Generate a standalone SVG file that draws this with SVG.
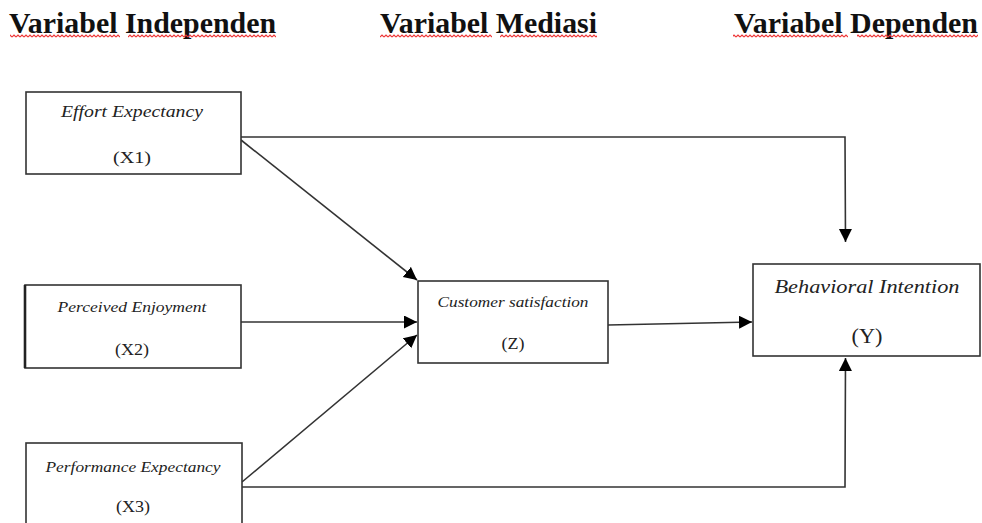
<svg xmlns="http://www.w3.org/2000/svg" width="982" height="523" viewBox="0 0 982 523">
<style>
.hd{font-family:"Liberation Serif","Times New Roman",serif;font-weight:bold;font-size:30px;fill:#111}
.lb{font-family:"Liberation Serif","Times New Roman",serif;font-style:italic;fill:#222}
.id{font-family:"Liberation Serif","Times New Roman",serif;fill:#222}
.box{fill:#fff;stroke:#333;stroke-width:1.6}
.ln{fill:none;stroke:#333;stroke-width:1.6}
</style>
<defs>
<marker id="ah" markerUnits="userSpaceOnUse" markerWidth="14" markerHeight="14" refX="13" refY="6.5" orient="auto">
<path d="M0,0 L13,6.5 L0,13 Z" fill="#000"/>
</marker>
<pattern id="wave" patternUnits="userSpaceOnUse" width="4" height="4" x="0" y="34">
<path d="M0,3 L2,1 L4,3" fill="none" stroke="#e33" stroke-width="1.1"/>
</pattern>
</defs>
<rect width="982" height="523" fill="#fff"/>
<g id="headers">
<text class="hd" x="9" y="33" textLength="267" lengthAdjust="spacingAndGlyphs">Variabel Independen</text>
<text class="hd" x="380" y="33" textLength="217" lengthAdjust="spacingAndGlyphs">Variabel Mediasi</text>
<text class="hd" x="734" y="33" textLength="244" lengthAdjust="spacingAndGlyphs">Variabel Dependen</text>
<rect x="10" y="34" width="110" height="4" fill="url(#wave)"/>
<rect x="128" y="34" width="148" height="4" fill="url(#wave)"/>
<rect x="380" y="34" width="112" height="4" fill="url(#wave)"/>
<rect x="500" y="34" width="97" height="4" fill="url(#wave)"/>
<rect x="733" y="34" width="115" height="4" fill="url(#wave)"/>
<rect x="857" y="34" width="121" height="4" fill="url(#wave)"/>
</g>
<g id="connectors">
<path class="ln" d="M241,137 L845,137 L845.5,242" marker-end="url(#ah)"/>
<path class="ln" d="M241,140 L417,280" marker-end="url(#ah)"/>
<path class="ln" d="M241,322 L417,322" marker-end="url(#ah)"/>
<path class="ln" d="M242,482 L417,335" marker-end="url(#ah)"/>
<path class="ln" d="M242,487 L845,487 L845.5,358" marker-end="url(#ah)"/>
<path class="ln" d="M608,325 L752,322" marker-end="url(#ah)"/>
</g>
<g id="x1">
<rect class="box" x="26" y="92" width="215" height="82"/>
<text class="lb" x="132" y="117" font-size="16" text-anchor="middle" textLength="142" lengthAdjust="spacingAndGlyphs">Effort Expectancy</text>
<text class="id" x="132" y="163" font-size="17" text-anchor="middle" textLength="38" lengthAdjust="spacingAndGlyphs">(X1)</text>
</g>
<g id="x2">
<rect class="box" x="25" y="285" width="216" height="83"/>
<line x1="25" y1="285" x2="25" y2="368" stroke="#222" stroke-width="2.6"/>
<text class="lb" x="132" y="312" font-size="15" text-anchor="middle" textLength="149" lengthAdjust="spacingAndGlyphs">Perceived Enjoyment</text>
<text class="id" x="132" y="355" font-size="16" text-anchor="middle" textLength="34" lengthAdjust="spacingAndGlyphs">(X2)</text>
</g>
<g id="x3">
<rect class="box" x="26" y="443" width="216" height="100"/>
<text class="lb" x="133" y="472" font-size="15" text-anchor="middle" textLength="175" lengthAdjust="spacingAndGlyphs">Performance Expectancy</text>
<text class="id" x="133" y="512" font-size="16" text-anchor="middle" textLength="34" lengthAdjust="spacingAndGlyphs">(X3)</text>
</g>
<g id="z">
<rect class="box" x="418" y="281" width="190" height="82"/>
<text class="lb" x="513" y="307" font-size="15" text-anchor="middle" textLength="151" lengthAdjust="spacingAndGlyphs">Customer satisfaction</text>
<text class="id" x="513" y="349" font-size="16" text-anchor="middle" textLength="23" lengthAdjust="spacingAndGlyphs">(Z)</text>
</g>
<g id="y">
<rect class="box" x="753" y="264" width="227" height="92"/>
<text class="lb" x="867" y="293" font-size="19" text-anchor="middle" textLength="185" lengthAdjust="spacingAndGlyphs">Behavioral Intention</text>
<text class="id" x="867" y="343" font-size="20" text-anchor="middle" textLength="31" lengthAdjust="spacingAndGlyphs">(Y)</text>
</g>
</svg>
